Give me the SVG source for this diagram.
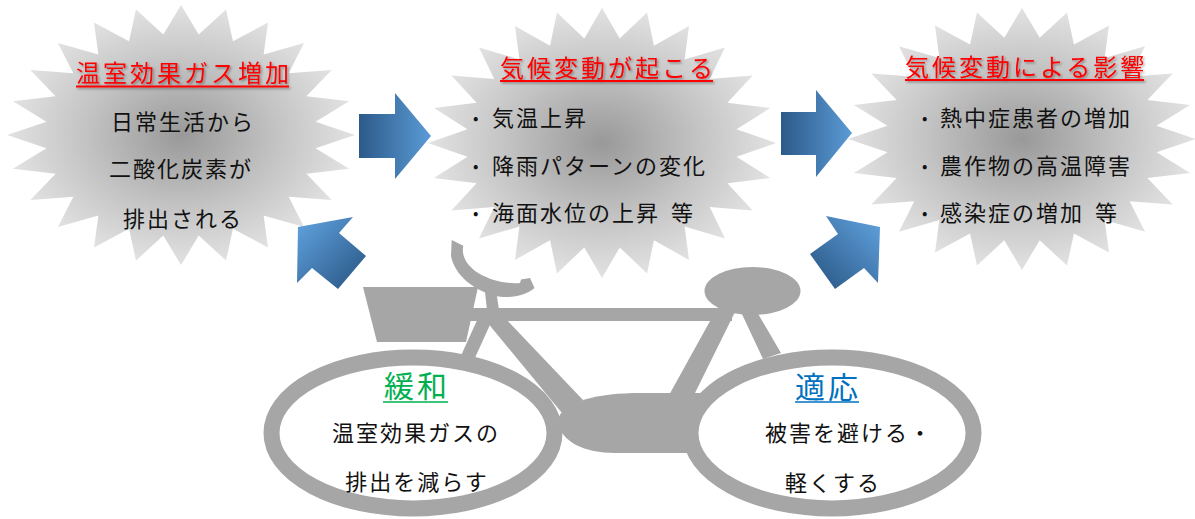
<svg xmlns="http://www.w3.org/2000/svg" xmlns:xlink="http://www.w3.org/1999/xlink" width="1195" height="519" viewBox="0 0 1195 519">
  <defs>
    <!-- 24-point star, unit radius; scaled per node -->
    <polygon id="star24" points="0,-1 0.1018,-0.7733 0.2588,-0.9659 0.2985,-0.7206 0.5,-0.866 0.4748,-0.6188 0.7071,-0.7071 0.6188,-0.4748 0.866,-0.5 0.7206,-0.2985 0.9659,-0.2588 0.7733,-0.1018 1,0 0.7733,0.1018 0.9659,0.2588 0.7206,0.2985 0.866,0.5 0.6188,0.4748 0.7071,0.7071 0.4748,0.6188 0.5,0.866 0.2985,0.7206 0.2588,0.9659 0.1018,0.7733 0,1 -0.1018,0.7733 -0.2588,0.9659 -0.2985,0.7206 -0.5,0.866 -0.4748,0.6188 -0.7071,0.7071 -0.6188,0.4748 -0.866,0.5 -0.7206,0.2985 -0.9659,0.2588 -0.7733,0.1018 -1,0 -0.7733,-0.1018 -0.9659,-0.2588 -0.7206,-0.2985 -0.866,-0.5 -0.6188,-0.4748 -0.7071,-0.7071 -0.4748,-0.6188 -0.5,-0.866 -0.2985,-0.7206 -0.2588,-0.9659 -0.1018,-0.7733"/>
    <radialGradient id="burstFill" cx="0.5" cy="0.5" r="0.5">
      <stop offset="0" stop-color="#999999"/>
      <stop offset="0.55" stop-color="#c3c3c3"/>
      <stop offset="1" stop-color="#e2e2e2"/>
    </radialGradient>
    <linearGradient id="arrowH" x1="0" y1="0" x2="1" y2="0">
      <stop offset="0" stop-color="#2c5a89"/>
      <stop offset="1" stop-color="#5b9bd6"/>
    </linearGradient>
    <linearGradient id="arrowNW" gradientUnits="userSpaceOnUse" x1="302" y1="228" x2="358" y2="284">
      <stop offset="0" stop-color="#5b9bd6"/>
      <stop offset="1" stop-color="#2c5a89"/>
    </linearGradient>
    <linearGradient id="arrowNE" gradientUnits="userSpaceOnUse" x1="876" y1="226" x2="818" y2="284">
      <stop offset="0" stop-color="#5b9bd6"/>
      <stop offset="1" stop-color="#2c5a89"/>
    </linearGradient>
    <filter id="titleShadow" x="-5%" y="-30%" width="110%" height="160%">
      <feDropShadow dx="1.5" dy="1.5" stdDeviation="0.8" flood-color="#000000" flood-opacity="0.35"/>
    </filter>
  </defs>
  <style>
    .burst { fill: url(#burstFill); }
    .title { font-family: 'Noto Sans CJK JP', sans-serif; font-size: 24px; letter-spacing: 3px; fill: #ff0000; }
    .uline { stroke: #ff0000; stroke-width: 2; }
    .body { font-family: 'Noto Sans CJK JP', sans-serif; font-size: 22px; letter-spacing: 2px; fill: #111111; }
    .bullet { font-family: 'Noto Sans CJK JP', sans-serif; font-size: 16px; fill: #111111; }
    .mid { text-anchor: middle; }
    .bike { fill: #a6a6a6; }
    .wheel { fill: #ffffff; stroke: #a6a6a6; stroke-width: 16; }
    .head { font-family: 'Noto Sans CJK JP', sans-serif; font-size: 30px; letter-spacing: 3px; }
  </style>

  <rect width="1195" height="519" fill="#ffffff"/>

  <!-- cause: more greenhouse gas -->
  <g id="node-cause">
    <use xlink:href="#star24" href="#star24" class="burst" transform="translate(181 135) scale(174 130)"/>
    <g filter="url(#titleShadow)">
      <text class="title" x="76" y="82">温室効果ガス増加</text>
      <line class="uline" x1="76" y1="86.5" x2="289" y2="86.5"/>
    </g>
    <text class="body mid" x="183" y="130">日常生活から</text>
    <text class="body mid" x="181" y="177">二酸化炭素が</text>
    <text class="body mid" x="183" y="227">排出される</text>
  </g>

  <!-- climate change -->
  <g id="node-change">
    <use xlink:href="#star24" href="#star24" class="burst" transform="translate(602 143) scale(174 135)"/>
    <g filter="url(#titleShadow)">
      <text class="title" x="500" y="77">気候変動が起こる</text>
      <line class="uline" x1="500" y1="81" x2="713" y2="81"/>
    </g>
    <text class="bullet" x="473" y="124">•</text>
    <text class="body" x="492" y="126">気温上昇</text>
    <text class="bullet" x="473" y="172">•</text>
    <text class="body" x="492" y="174">降雨パターンの変化</text>
    <text class="bullet" x="473" y="219">•</text>
    <text class="body" x="492" y="221">海面水位の上昇 <tspan dx="4">等</tspan></text>
  </g>

  <!-- impacts -->
  <g id="node-impact">
    <use xlink:href="#star24" href="#star24" class="burst" transform="translate(1022 139) scale(174 131)"/>
    <g filter="url(#titleShadow)">
      <text class="title" x="905" y="76">気候変動による影響</text>
      <line class="uline" x1="905" y1="80" x2="1144" y2="80"/>
    </g>
    <text class="bullet" x="922" y="124">•</text>
    <text class="body" x="940" y="126">熱中症患者の増加</text>
    <text class="bullet" x="922" y="172">•</text>
    <text class="body" x="940" y="174">農作物の高温障害</text>
    <text class="bullet" x="922" y="219">•</text>
    <text class="body" x="940" y="221">感染症の増加 <tspan dx="4">等</tspan></text>
  </g>

  <!-- bicycle: frame first, wheels on top -->
  <g id="bicycle">
    <g id="bike-frame" class="bike">
      <!-- handlebar -->
      <path d="M451.7,240 L463.3,245.7 C461,256 467,266 479,273.5 C491,280.5 506,284 520,283 L521,279.5 L530,278 L534.5,288 C525,296.5 508,299 494,295.5 C474,290 455,276 451,256 Z"/>
      <!-- stem -->
      <polygon points="485,292 496,290 499,310 487,310"/>
      <!-- basket -->
      <polygon points="363,287 478,287 466,342 377,342"/>
      <!-- top tube -->
      <rect x="470" y="308" width="262" height="13"/>
      <!-- fork -->
      <polygon points="479,316 494,316 474,360 459,360"/>
      <!-- down tube -->
      <polygon points="482,316 503,316 583,400 562,413"/>
      <!-- seat tube and seat stay -->
      <polygon points="715,312 735,312 693,397 668,397"/>
      <polygon points="741,312 757,312 781,353 763,359"/>
      <!-- saddle -->
      <ellipse cx="752.5" cy="291" rx="48" ry="24"/>
      <!-- crank housing / chain stay -->
      <path d="M558,421 C560,401 600,393 640,393 L710,393 L710,453 L615,453 C585,453 560,442 558,421 Z"/>
    </g>

    <g id="node-mitigation">
      <ellipse class="wheel" cx="413" cy="433" rx="141.5" ry="75.5"/>
      <text class="head mid" x="417" y="397" fill="#00b050">緩和</text>
      <line x1="383" y1="402" x2="448" y2="402" stroke="#00b050" stroke-width="1.5"/>
      <text class="body mid" x="416" y="441">温室効果ガスの</text>
      <text class="body mid" x="417" y="490">排出を減らす</text>
    </g>

    <g id="node-adaptation">
      <ellipse class="wheel" cx="832" cy="433" rx="141.5" ry="75.5"/>
      <text class="head mid" x="828" y="398" fill="#0070c0">適応</text>
      <line x1="795" y1="402" x2="859" y2="402" stroke="#0070c0" stroke-width="1.5"/>
      <text class="body" x="765" y="441">被害を避ける・</text>
      <text class="body" x="785" y="491">軽くする</text>
    </g>
  </g>

  <!-- connectors -->
  <g id="connectors">
    <polygon fill="url(#arrowH)" points="359,114 395,114 395,93 431,136 395,179 395,158 359,158"/>
    <polygon fill="url(#arrowH)" points="781,112 816,112 816,90 852,133 816,177 816,155 781,155"/>
    <polygon fill="url(#arrowNW)" points="298,227 353,217 339,233 366,256 338,289 312,268 297,283"/>
    <polygon fill="url(#arrowNE)" points="826,216 880,227 878,283 864,268 835,289 810,254 838,234"/>
  </g>
</svg>
